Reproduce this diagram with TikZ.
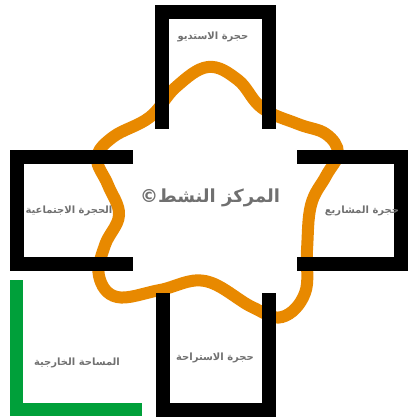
\documentclass[tikz,border=0pt]{standalone}
\usepackage{fontspec}
\newfontfamily\arabicfont[Script=Arabic]{DejaVu Sans}
\TeXXeTstate=1
\usepackage{xcolor}
\usepackage{tikz}

\definecolor{hubOrange}{RGB}{232,137,0}
\definecolor{yardGreen}{RGB}{0,160,58}
\definecolor{labelGrey}{RGB}{112,112,112}

\begin{document}
\begin{tikzpicture}[
  x=1pt, y=-1pt,
  wall/.style={draw=black, line width=14pt},
  yard/.style={draw=yardGreen, line width=13pt},
  hub/.style={draw=hubOrange, line width=12pt},
  roomlabel/.style={text=labelGrey, inner sep=0pt, font=\arabicfont\bfseries\fontsize{10}{12}\selectfont},
  hublabel/.style={roomlabel, font=\arabicfont\bfseries\fontsize{18}{21}\selectfont}
]
\useasboundingbox (0,0) rectangle (417,419);

% active centre outline
\draw[hub] plot[smooth cycle, tension=0.65] coordinates {
  (208,67) (238,80) (262,108) (298,124) (326,134) (338,153) (326,176)
  (311,205) (307,250) (305,293) (282,317) (252,307) (205,281)
  (160,290) (117,297) (99,276) (105,245) (119,215) (108,185)
  (97,158) (113,137) (150,117) (176,87)};

% rooms
\draw[wall] (162,129) -- (162,12) -- (268.5,12) -- (268.5,129);
\draw[wall] (133,157.5) -- (17,157.5) -- (17,263.5) -- (133,263.5);
\draw[wall] (297,157.5) -- (400.5,157.5) -- (400.5,263.5) -- (297,263.5);
\draw[wall] (162.5,293) -- (162.5,409.5) -- (268.5,409.5) -- (268.5,293);
\draw[yard] (16.5,280) -- (16.5,409.5) -- (142,409.5);

% labels
\node[hublabel] (hub) at (210,198) {\beginR المركز النشط©\endR};
\node[roomlabel] (studio) at (213,37) {\beginR حجرة الاستديو\endR};
\node[roomlabel] (social) at (69,211) {\beginR الحجرة الاجتماعية\endR};
\node[roomlabel] (projects) at (362,211) {\beginR حجرة المشاريع\endR};
\node[roomlabel] (lounge) at (215,358) {\beginR حجرة الاستراحة\endR};
\node[roomlabel] (outdoor) at (77,363) {\beginR المساحة الخارجية\endR};
\end{tikzpicture}
\end{document}
